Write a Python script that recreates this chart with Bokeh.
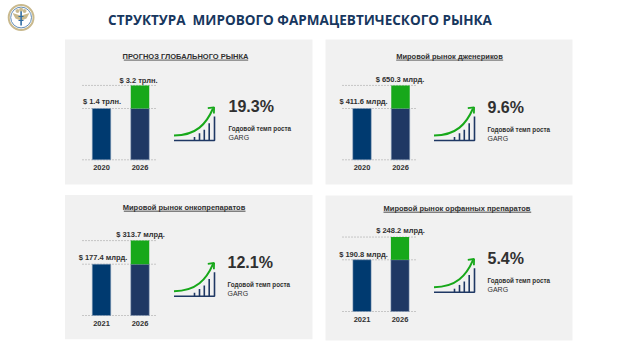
from bokeh.plotting import figure
from bokeh.models import Range1d, ColumnDataSource
from bokeh.core.properties import value
from bokeh.embed import file_html
from bokeh.resources import INLINE

# ---- chart content
page_title = "СТРУКТУРА\u00a0 МИРОВОГО ФАРМАЦЕВТИЧЕСКОГО РЫНКА"
panel_titles = ["ПРОГНОЗ ГЛОБАЛЬНОГО РЫНКА", "Мировой рынок дженериков",
                "Мировой рынок онкопрепаратов", "Мировой рынок орфанных препаратов"]
years_start = ["2020", "2020", "2021", "2021"]
years_end = ["2026", "2026", "2026", "2026"]
labels_start = ["$ 1.4 трлн.", "$ 411.6 млрд.", "$ 177.4 млрд.", "$ 190.8 млрд."]
labels_end = ["$ 3.2 трлн.", "$ 650.3 млрд.", "$ 313.7 млрд.", "$ 248.2 млрд."]
growth = ["19.3%", "9.6%", "12.1%", "5.4%"]
growth_caption = "Годовой темп роста"
growth_name = "GARG"
# the source draws its bars schematically: start bar = 100, end bar = about 145
drawn_start = [100, 100, 100, 100]
drawn_end = [145, 145, 146, 144]

NAVY1, NAVY2, GREEN = "#003a70", "#1f3864", "#17a81a"
PANEL, TXT = "#f1f1f1", "#303030"
SANS = value("Liberation Sans")

# layout, in page pixels
W, H = 640, 360
px = [(64.5, 312), (325, 572), (64.5, 312), (325, 572)]
py = [(39, 184), (39, 184), (194.5, 338.7), (195, 340)]
base_y = [159.3, 159.3, 315, 311]
px_per_100 = [51.3, 51.3, 51.3, 51.7]
bar_c0 = [101, 361.5, 101, 361.5]
bar_dx = [38.5, 38.5, 38.5, 38.0]
dots = [(82, 157), (342, 417), (82, 157), (342, 417)]
title_cx = [185, 449, 183.5, 456.5]
title_y = [56, 56, 206.7, 207.7]
ul = [(123.3, 247.7, 59.6, 0.8, "#333333"), (395.7, 502.7, 59.6, 0.8, "#333333"),
      (123.3, 245, 210.7, 1.6, "#808080"), (383, 530.7, 211.7, 1.6, "#808080")]
lab0_off = [(0.5, -6.6), (1.5, -6.6), (1.5, -6.7), (1.5, -5.6)]
lab1_off = [(-1.5, -4.7), (-0.5, -5.7), (0.5, -5.7), (0.5, -6.4)]
icon_dx = [0, 260, 0, 260]
icon_dy = [0, 0, 155.7, 151.7]
pct_x = [228, 487, 227, 487]
pct_y = [106, 106.5, 261.7, 258]
cap_y = [128, 128.5, 284, 280]
name_y = [137, 137.5, 292.7, 288.7]

p = figure(width=W, height=H, x_range=Range1d(0, W), y_range=Range1d(H, 0),
           output_backend="svg", toolbar_location=None, min_border=0,
           background_fill_color="white", border_fill_color="white", outline_line_color=None)
p.axis.visible = False
p.grid.visible = False

# page heading
p.text([299.5], [19.5], text=[page_title], text_font=value("Open Sans"), text_font_style="bold",
       text_font_size="13.5px", text_color="#17375e", text_align="center", text_baseline="middle")

# logo
p.circle([20.6], [17], radius=12.4, fill_color="white", line_color="#c9b98d", line_width=2)
p.circle([20.6], [17], radius=10.4, fill_color=None, line_color="#4f7fae", line_width=0.9)
p.patches([[12, 20, 20, 15], [29, 21, 21, 26]],
          [[12.5, 15, 20, 18], [12.5, 15, 20, 18]], fill_color="#c9b98d", line_color=None)
p.segment([20.6], [10], [20.6], [25], line_color="#2f6da3", line_width=1.6)
p.segment([18], [16], [23], [16], line_color="#2f6da3", line_width=1.2)
p.segment([18], [20], [23], [20], line_color="#2f6da3", line_width=1.2)
p.scatter([17, 20.6, 24], [10.5, 9, 10.5], size=3, marker="circle", color="#c9b98d")

for i in range(4):
    x0, x1 = px[i]
    y0, y1 = py[i]
    p.quad(left=[x0], right=[x1], top=[y0], bottom=[y1], fill_color=PANEL, line_color=None)

    # each panel's bars have their own scale
    xn, yn = f"x{i}", f"y{i}"
    k = 100 / px_per_100[i]
    p.extra_y_ranges[yn] = Range1d((base_y[i] - H) * k, base_y[i] * k)
    p.extra_x_ranges[xn] = Range1d(-bar_c0[i] / bar_dx[i], (W - bar_c0[i]) / bar_dx[i])
    kw = dict(x_range_name=xn, y_range_name=yn)

    d0, d1 = dots[i]
    for lvl in (0, drawn_start[i], drawn_end[i]):
        yy = base_y[i] - lvl / k
        p.line([d0, d1], [yy, yy], line_color="#9a9a9a", line_width=1, line_dash="1 2")

    src = ColumnDataSource(dict(x=[0, 1], base=[0, 0], top=[drawn_start[i], drawn_start[i]],
                                color=[NAVY1, NAVY2]))
    p.vbar(x="x", width=0.48, bottom="base", top="top", fill_color="color",
           line_color="#8ea3bd", line_width=0.5, source=src, **kw)
    p.vbar(x=[1], width=0.48, bottom=[drawn_start[i]], top=[drawn_end[i]],
           fill_color=GREEN, line_color=None, **kw)

    common = dict(text_font=SANS, text_font_style="bold", text_font_size="7.5px", text_color=TXT,
                  text_align="center", text_baseline="middle")
    p.text([0], [drawn_start[i]], text=[labels_start[i]], x_offset=lab0_off[i][0],
           y_offset=lab0_off[i][1], **common, **kw)
    p.text([1], [drawn_end[i]], text=[labels_end[i]], x_offset=lab1_off[i][0],
           y_offset=lab1_off[i][1], **common, **kw)
    p.text([0, 1], [0, 0], text=[years_start[i], years_end[i]], y_offset=8, **common, **kw)

    # panel title
    p.segment([ul[i][0]], [ul[i][2]], [ul[i][1]], [ul[i][2]], line_color=ul[i][4], line_width=ul[i][3])
    p.text([title_cx[i]], [title_y[i]], text=[panel_titles[i]], **common)

    # growth icon
    dx, dy = icon_dx[i], icon_dy[i]
    ix = [194, 199, 203.8, 208.7]
    it = [136.5, 132.7, 129.3, 122.7]
    p.segment([v + dx for v in ix], [140 + dy] * 4, [v + dx for v in ix], [v + dy for v in it],
              line_color=NAVY2, line_width=1.6)
    p.line([173.5 + dx, 214 + dx, 214 + dx], [140 + dy, 140 + dy, 116 + dy],
           line_color=NAVY2, line_width=1.6)
    p.bezier(x0=[173.5 + dx], y0=[135 + dy], x1=[212.5 + dx], y1=[108 + dy],
             cx0=[196 + dx], cy0=[135 + dy], cx1=[206 + dx], cy1=[123 + dy],
             line_color=GREEN, line_width=2)
    p.line([207.3 + dx, 213.6 + dx, 213.4 + dx], [107.6 + dy, 106.8 + dy, 113 + dy],
           line_color=GREEN, line_width=1.8)

    # growth figures
    p.text([pct_x[i]], [pct_y[i]], text=[growth[i]], text_font=SANS, text_font_style="bold",
           text_font_size="16px", text_color=TXT, text_align="left", text_baseline="middle")
    p.text([pct_x[i]], [cap_y[i]], text=[growth_caption], text_font=SANS, text_font_style="bold",
           text_font_size="6.3px", text_color=TXT, text_align="left", text_baseline="middle")
    p.text([pct_x[i]], [name_y[i]], text=[growth_name], text_font=SANS,
           text_font_size="7px", text_color=TXT, text_align="left", text_baseline="middle")

open("out.html", "w").write(file_html(p, INLINE))
